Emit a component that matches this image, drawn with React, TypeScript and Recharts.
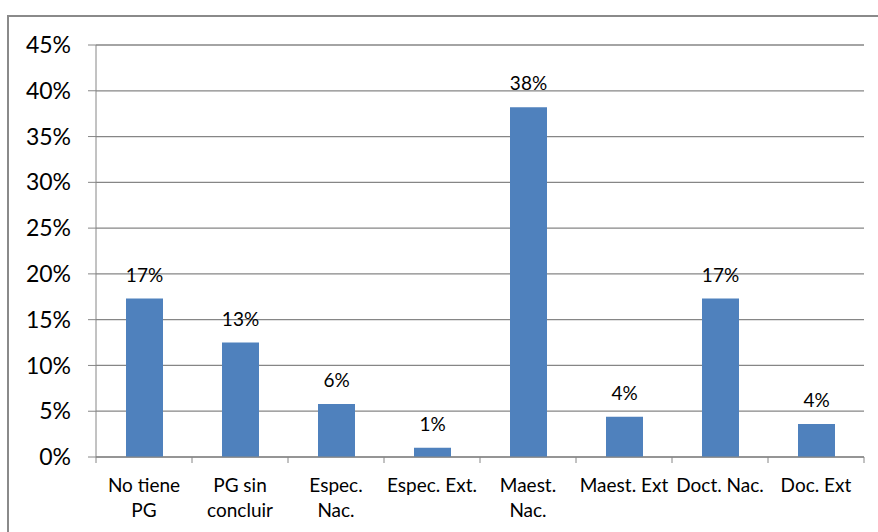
import React from 'react';
import { BarChart, Bar, XAxis, YAxis, CartesianGrid, LabelList } from 'recharts';

const categories = [
  'No tiene\nPG',
  'PG sin\nconcluir',
  'Espec.\nNac.',
  'Espec. Ext.',
  'Maest.\nNac.',
  'Maest. Ext',
  'Doct. Nac.',
  'Doc. Ext',
];
const percentages = [17.3, 12.5, 5.8, 1.0, 38.2, 4.4, 17.3, 3.6];
const yTicks = [0, 5, 10, 15, 20, 25, 30, 35, 40, 45];

const data = categories.map((name, i) => ({ name, value: percentages[i] }));

const W = 878;
const H = 532;
const PLOT_LEFT = 96;
const PLOT_RIGHT = 14;
const band = (W - PLOT_LEFT - PLOT_RIGHT) / categories.length;
const AXIS = '#868686';
const FONT = 'Lato, "Liberation Sans", sans-serif';

const CategoryTick = (props: any) => {
  const { x, y, payload, index } = props;
  const lines = String(payload.value).split('\n');
  return (
    <g>
      <line x1={x - band / 2} y1={y} x2={x - band / 2} y2={y + 6} stroke={AXIS} />
      {index === categories.length - 1 && (
        <line x1={x + band / 2} y1={y} x2={x + band / 2} y2={y + 6} stroke={AXIS} />
      )}
      <text x={x} y={y + 35} textAnchor="middle" fontSize={19} fontFamily={FONT} fill="#000">
        {lines.map((l, i) => (
          <tspan key={i} x={x} dy={i === 0 ? 0 : 25}>
            {l}
          </tspan>
        ))}
      </text>
    </g>
  );
};

export default function App() {
  return (
    <div style={{ position: 'absolute', left: 0, top: 0, width: W, height: H, background: '#fff' }}>
      <div
        style={{
          position: 'absolute',
          left: 7,
          top: 15,
          right: 0,
          bottom: 0,
          borderLeft: '2px solid #8a8a8a',
          borderTop: '2px solid #8a8a8a',
        }}
      />
      <div style={{ position: 'absolute', left: 0, top: 0 }}>
        <BarChart
          width={W}
          height={H}
          data={data}
          margin={{ top: 45, right: PLOT_RIGHT, bottom: 0, left: 0 }}
        >
          <CartesianGrid vertical={false} stroke={AXIS} strokeWidth={1.3} />
          <XAxis
            dataKey="name"
            height={75}
            interval={0}
            tickLine={false}
            tickSize={0}
            tickMargin={0}
            axisLine={{ stroke: AXIS }}
            tick={<CategoryTick />}
          />
          <YAxis
            width={PLOT_LEFT}
            domain={[0, 45]}
            ticks={yTicks}
            tickFormatter={(v: number) => `${v}%`}
            tickSize={8}
            tickMargin={17}
            axisLine={{ stroke: AXIS }}
            tickLine={{ stroke: AXIS }}
            tick={{ fill: '#000', fontSize: 23, fontFamily: FONT }}
          />
          <Bar dataKey="value" fill="#4f81bd" barSize={37} isAnimationActive={false}>
            <LabelList
              dataKey="value"
              position="top"
              offset={17}
              formatter={(v: any) => `${Math.round(Number(v))}%`}
              style={{ fill: '#000', fontSize: 19, fontFamily: FONT }}
            />
          </Bar>
        </BarChart>
      </div>
    </div>
  );
}
